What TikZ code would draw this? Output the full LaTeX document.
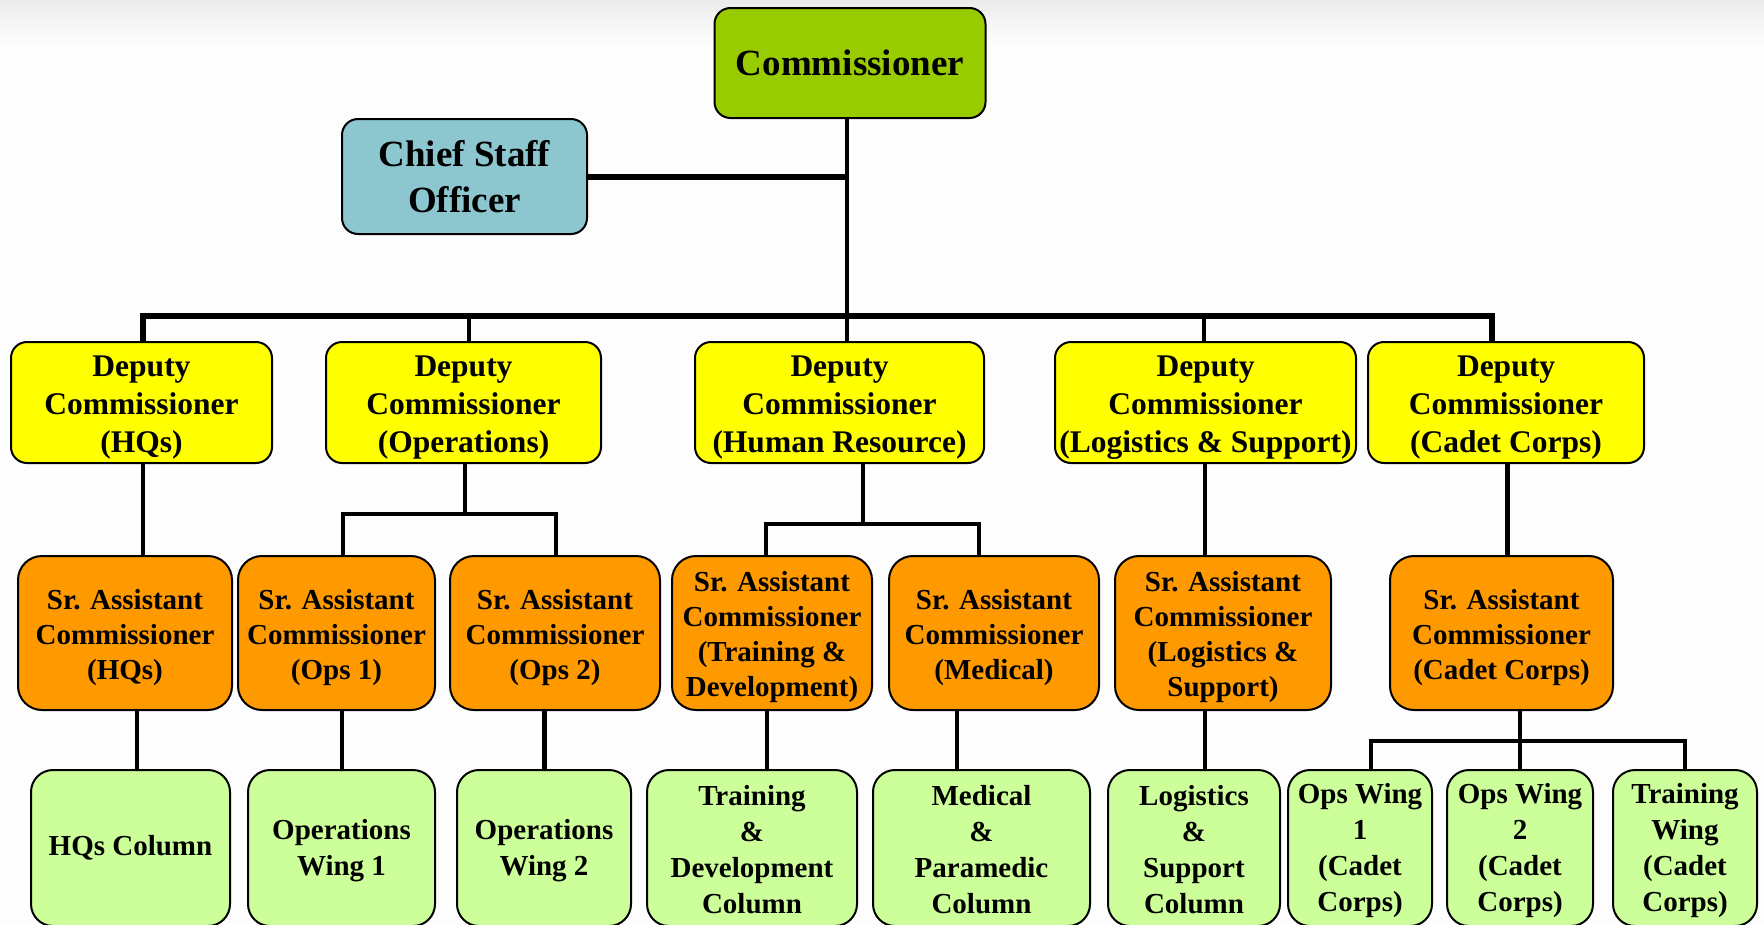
\documentclass[tikz,border=0pt]{standalone}
\usepackage{fontspec}
\setmainfont{Liberation Serif}
\definecolor{cgreen}{HTML}{99CC00}
\definecolor{cblue}{HTML}{8CC6CF}
\definecolor{cyel}{HTML}{FFFF00}
\definecolor{corange}{HTML}{FF9900}
\definecolor{clight}{HTML}{CCFF99}
\definecolor{bgtop}{HTML}{ECECEC}
\definecolor{bgbot}{HTML}{FDFDFD}
\newcommand{\myLift}[1]{\rule{0pt}{#1em}}
\begin{document}
\begin{tikzpicture}[x=1pt,y=-1pt,
  box/.style={draw=black, line width=2pt, align=center, inner sep=0pt, text=black},
  topbox/.style={box, rounded corners=16pt, font=\bfseries\fontsize{37}{46}\selectfont},
  depbox/.style={box, fill=cyel, rounded corners=16pt, minimum height=121pt, font=\bfseries\fontsize{31.5}{37.7}\selectfont},
  sacbox/.style={box, fill=corange, rounded corners=24pt, minimum height=154pt, font=\bfseries\fontsize{29}{35}\selectfont},
  botbox/.style={box, fill=clight, rounded corners=22pt, minimum height=156pt, font=\bfseries\fontsize{29}{36}\selectfont},
  conn/.style={draw=black, line width=4.5pt, line join=miter},
  thick conn/.style={draw=black, line width=6pt, line join=miter}]
\useasboundingbox (0,0) rectangle (1764,924);
\clip (0,0) rectangle (1764,924);
\fill[bgbot] (0,0) rectangle (1764,924);
\shade[top color=bgtop, bottom color=bgbot] (0,0) rectangle (1764,45);

% top level
\node[topbox, fill=cgreen, minimum width=271pt, minimum height=110pt] (comm) at (850,63) {Commissioner};
\node[topbox, fill=cblue, minimum width=245pt, minimum height=115pt] (chief) at (464.5,176.5) {Chief Staff\\Officer};

% deputies
\node[depbox, minimum width=261pt] (d1) at (141.5,402.5) {\myLift{0.97}Deputy\\Commissioner\\(HQs)};
\node[depbox, minimum width=275pt] (d2) at (463.5,402.5) {\myLift{0.97}Deputy\\Commissioner\\(Operations)};
\node[depbox, minimum width=289pt] (d3) at (839.5,402.5) {\myLift{0.97}Deputy\\Commissioner\\(Human Resource)};
\node[depbox, minimum width=301pt] (d4) at (1205.5,402.5) {\myLift{0.97}Deputy\\Commissioner\\(Logistics \& Support)};
\node[depbox, minimum width=276pt] (d5) at (1506,402.5) {\myLift{0.97}Deputy\\Commissioner\\(Cadet Corps)};

% senior assistant commissioners
\node[sacbox, minimum width=214pt] (s1) at (125,633) {\myLift{0.99}Sr. Assistant\\Commissioner\\(HQs)};
\node[sacbox, minimum width=197pt] (s2) at (336.5,633) {\myLift{0.99}Sr. Assistant\\Commissioner\\(Ops 1)};
\node[sacbox, minimum width=210pt] (s3) at (555,633) {\myLift{0.99}Sr. Assistant\\Commissioner\\(Ops 2)};
\node[sacbox, minimum width=200pt] (s4) at (772,633) {\myLift{0.99}Sr. Assistant\\Commissioner\\(Training \&\\Development)};
\node[sacbox, minimum width=210pt] (s5) at (994,633) {\myLift{0.99}Sr. Assistant\\Commissioner\\(Medical)};
\node[sacbox, minimum width=216pt] (s6) at (1223,633) {\myLift{0.99}Sr. Assistant\\Commissioner\\(Logistics \&\\Support)};
\node[sacbox, minimum width=223pt] (s7) at (1501.5,633) {\myLift{0.99}Sr. Assistant\\Commissioner\\(Cadet Corps)};

% bottom units
\node[botbox, minimum width=199pt] (b1) at (130.5,848) {HQs Column};
\node[botbox, minimum width=187pt] (b2) at (341.5,848) {\myLift{0.9}Operations\\Wing 1};
\node[botbox, minimum width=174pt] (b3) at (544,848) {\myLift{0.9}Operations\\Wing 2};
\node[botbox, minimum width=210pt] (b4) at (752,848) {\myLift{0.8}Training\\\&\\Development\\Column};
\node[botbox, minimum width=217pt] (b5) at (981.5,848) {\myLift{0.8}Medical\\\&\\Paramedic\\Column};
\node[botbox, minimum width=172pt] (b6) at (1194,848) {\myLift{0.8}Logistics\\\&\\Support\\Column};
\node[botbox, minimum width=144pt] (b7) at (1360,848) {\myLift{0.9}Ops Wing\\1\\(Cadet\\Corps)};
\node[botbox, minimum width=146pt] (b8) at (1520,848) {\myLift{0.9}Ops Wing\\2\\(Cadet\\Corps)};
\node[botbox, minimum width=144pt] (b9) at (1685,848) {\myLift{0.9}Training\\Wing\\(Cadet\\Corps)};

% junction coordinates
\coordinate (bus) at (847,316);
\coordinate (k2) at (465,514);
\coordinate (k3) at (863,524);
\coordinate (k7) at (1520,741);

% commissioner level
\draw[conn] (comm.south -| bus) -- (bus);
\draw[thick conn] (chief.east) -- (chief.east -| bus);
\draw[thick conn] ([xshift=1.5pt]d1.north) |- (bus) -| ([xshift=-14pt]d5.north);
\draw[conn] ([xshift=5.5pt]d2.north) -- ([xshift=5.5pt]d2.north |- bus);
\draw[conn] (bus) -- (bus |- d3.north);
\draw[conn] ([xshift=-1.5pt]d4.north) -- ([xshift=-1.5pt]d4.north |- bus);

% deputy -> SAC
\draw[conn] ([xshift=1.5pt]d1.south) -- ([xshift=1.5pt]d1.south |- s1.north);
\draw[conn] ([xshift=1.5pt]d2.south) -- (k2);
\draw[conn] ([xshift=6.5pt]s2.north) |- (k2) -| ([xshift=1pt]s3.north);
\draw[conn] ([xshift=23.5pt]d3.south) -- (k3);
\draw[conn] ([xshift=-6pt]s4.north) |- (k3) -| ([xshift=-15pt]s5.north);
\draw[conn] ([xshift=-0.5pt]d4.south) -- ([xshift=-0.5pt]d4.south |- s6.north);
\draw[conn] ([xshift=1.5pt]d5.south) -- ([xshift=1.5pt]d5.south |- s7.north);

% SAC -> units
\draw[conn] ([xshift=12pt]s1.south) -- ([xshift=12pt]s1.south |- b1.north);
\draw[conn] ([xshift=5.5pt]s2.south) -- ([xshift=5.5pt]s2.south |- b2.north);
\draw[conn] ([xshift=-10.5pt]s3.south) -- ([xshift=-10.5pt]s3.south |- b3.north);
\draw[conn] ([xshift=-5pt]s4.south) -- ([xshift=-5pt]s4.south |- b4.north);
\draw[conn] ([xshift=-37pt]s5.south) -- ([xshift=-37pt]s5.south |- b5.north);
\draw[conn] ([xshift=-18pt]s6.south) -- ([xshift=-18pt]s6.south |- b6.north);
\draw[conn] ([xshift=18.5pt]s7.south) -- (k7);
\draw[conn] ([xshift=11pt]b7.north) |- (k7) -| (b9.north);
\draw[conn] (k7) -- (b8.north);
\end{tikzpicture}
\end{document}
